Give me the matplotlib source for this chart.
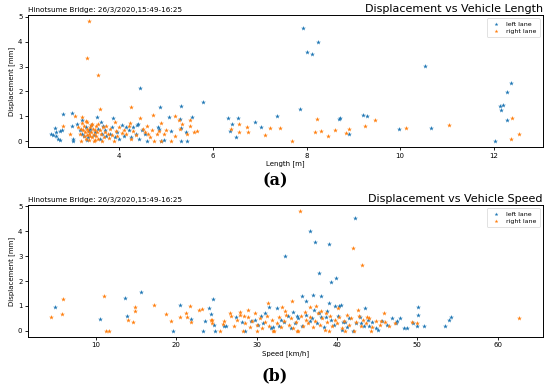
import numpy as np
import matplotlib
matplotlib.use("Agg")
import matplotlib.pyplot as plt

# -------------------------------
# Data
# (a) displacement vs vehicle length, (b) displacement vs vehicle speed
# -------------------------------

len_left = [7.93, 8.02, 8.12, 8.24, 10.53, 12.38, 12.29, 4.45, 5.78, 5.32, 4.87, 7.87,
            12.13, 12.2, 12.15, 12.28, 12.02, 10.67, 9.98, 9.2, 9.3, 8.7, 8.72, 8.9,
            7.37, 7.02, 6.89, 6.32, 6.54, 6.4, 6.37, 6.5, 5.56, 5.06, 2.79, 2.99, 3.52, 3.87,
            2.63, 2.59, 2.64, 2.55, 2.74, 2.70, 2.74, 2.78, 2.65, 2.98, 3.0, 3.02,
            3.21, 3.15, 3.2, 3.25, 3.28, 3.3, 3.35, 3.4, 3.45, 3.48, 3.55, 3.58,
            3.62, 3.65, 3.7, 3.72, 3.8, 3.85, 3.9, 3.95, 4.05, 4.1, 4.2, 4.25,
            4.3, 4.35, 4.38, 4.4, 4.42, 4.48, 4.55, 4.6, 4.82, 4.84, 4.9, 4.95,
            5.1, 5.3, 5.31, 5.32, 5.44, 5.42, 3.1, 3.33, 3.38, 3.6, 4.0, 4.15]
disp_len_left = [4.54, 3.58, 3.51, 4.0, 3.02, 2.35, 1.99, 2.14, 1.56, 1.42, 1.36, 1.29,
                 1.42, 1.44, 1.25, 0.85, 0.0, 0.52, 0.48, 1.05, 0.99, 0.89, 0.92, 0.3,
                 1.01, 0.57, 0.77, 0.94, 0.94, 0.69, 0.42, 0.18, 0.97, 0.96, 1.07, 1.12, 0.96, 0.93,
                 0.54, 0.25, 0.22, 0.27, 0.04, 0.10, 0.40, 0.43, 0.38, 0.60, 0.02, 0.08,
                 0.85, 0.45, 0.3, 0.2, 0.55, 0.05, 0.4, 0.65, 0.25, 0.35, 0.5, 0.1,
                 0.3, 0.6, 0.45, 0.2, 0.3, 0.55, 0.15, 0.35, 0.65, 0.2, 0.45, 0.15,
                 0.55, 0.3, 0.65, 0.7, 0.1, 0.45, 0.3, 0.02, 0.56, 0.5, 0.0, 0.05,
                 0.4, 0.88, 0.53, 0.0, 0.0, 0.36, 0.7, 0.15, 0.5, 0.75, 0.07, 0.58]

len_right = [3.35, 3.30, 3.55, 3.59, 4.25, 4.73, 5.18, 5.27, 6.39, 6.55, 6.56, 6.72,
             6.74, 7.11, 7.23, 7.43, 7.68, 8.22, 8.18, 8.32, 8.45, 8.61, 8.85, 8.9,
             9.25, 9.47, 10.12, 11.04, 12.39, 12.37, 12.55,
             3.12, 3.15, 3.18, 3.2, 3.22, 3.24, 3.25, 3.26, 3.28, 3.3, 3.3, 3.32,
             3.33, 3.35, 3.36, 3.37, 3.38, 3.4, 3.4, 3.42, 3.43, 3.45, 3.45, 3.47,
             3.5, 3.5, 3.52, 3.55, 3.55, 3.58, 3.6, 3.62, 3.65, 3.68, 3.7, 3.72,
             3.75, 3.78, 3.8, 3.85, 3.88, 3.92, 3.95, 4.0, 4.05, 4.1, 4.15, 4.2,
             4.22, 4.25, 4.3, 4.35, 4.45, 4.5, 4.55, 4.6, 4.62, 4.65, 4.7, 4.75,
             4.8, 4.85, 4.9, 4.95, 5.0, 5.1, 5.2, 5.3, 5.35, 5.45, 5.5, 5.6,
             3.05, 2.79, 3.2, 2.95, 3.91, 4.89, 5.51, 5.67, 3.28, 3.42, 3.18, 3.48]
disp_len_right = [4.83, 3.33, 2.65, 1.29, 1.38, 1.05, 1.0, 0.85, 0.48, 0.68, 0.35, 0.58,
                  0.35, 0.24, 0.53, 0.54, 0.0, 0.87, 0.35, 0.41, 0.22, 0.44, 0.32, 0.47,
                  0.59, 0.86, 0.51, 0.65, 0.93, 0.1, 0.28,
                  0.55, 0.3, 0.0, 0.72, 0.45, 0.2, 0.6, 0.35, 0.1, 0.5, 0.25, 0.75,
                  0.4, 0.05, 0.3, 0.55, 0.2, 0.65, 0.38, 0.15, 0.5, 0.28, 0.0, 0.45,
                  0.6, 0.22, 0.35, 0.7, 0.1, 0.45, 0.28, 0.0, 0.55, 0.18, 0.38, 0.62,
                  0.3, 0.12, 0.48, 0.25, 0.0, 0.4, 0.2, 0.55, 0.32, 0.45, 0.28, 0.6,
                  0.72, 0.1, 0.4, 0.25, 0.92, 0.5, 0.35, 0.62, 0.3, 0.15, 0.45, 0.0,
                  0.3, 0.42, 0.0, 0.28, 0.45, 0.0, 0.22, 0.5, 0.7, 0.3, 0.62, 0.38,
                  1.0, 0.59, 0.98, 0.3, 0.75, 0.72, 0.83, 0.4, 0.8, 0.68, 0.5, 0.05]

spd_left = [42.2, 36.6, 37.3, 39.0, 33.6, 37.8, 39.9, 39.3, 35.6, 37.0, 38.0, 36.1,
            39.0, 39.7, 40.2, 40.5, 43.5, 50.1, 50.1, 54.2, 54.0, 53.4, 50.8, 50.0,
            48.4, 48.7, 47.8, 47.5, 45.1,
            5.0, 10.5, 13.6, 13.9, 15.6, 19.6, 20.5, 21.9, 23.4, 23.6, 24.1, 24.3,
            24.6, 24.7, 24.8, 25.9, 26.2, 27.5, 28.6, 29.3, 30.2, 30.8, 31.1, 31.5,
            32.0, 32.5, 33.0, 33.4, 33.9, 34.3, 34.8, 35.2, 35.7, 36.2, 36.6, 37.1,
            37.5, 38.0, 38.4, 38.8, 39.3, 39.6, 40.1, 40.6, 41.0, 41.5, 42.0, 42.4,
            42.9, 43.4, 43.9, 44.4, 44.9, 45.6, 46.2, 46.8, 47.3, 49.5, 32.8, 35.0,
            37.8, 41.2, 43.0, 29.8, 31.8, 34.6, 36.9, 38.6, 40.8, 44.0, 28.2, 30.5]
disp_spd_left = [4.51, 3.99, 3.56, 3.48, 3.0, 2.33, 2.12, 1.96, 1.41, 1.45, 1.4, 1.21,
                 1.11, 1.0, 0.98, 1.02, 0.9, 0.97, 0.65, 0.55, 0.44, 0.2, 0.19, 0.18,
                 0.1, 0.1, 0.5, 0.4, 0.03,
                 0.97, 0.47, 1.33, 0.61, 1.55, 0.0, 1.05, 0.47, 0.0, 0.39, 0.92, 0.67,
                 1.28, 0.23, 0.0, 0.2, 0.2, 0.57, 0.0, 0.4, 0.25, 0.3, 0.72, 0.95,
                 0.15, 0.93, 0.45, 0.35, 0.6, 0.1, 0.3, 0.5, 0.2, 0.65, 0.4, 0.85,
                 0.3, 0.55, 0.15, 0.8, 0.45, 0.25, 0.6, 0.05, 0.35, 0.5, 0.0, 0.3,
                 0.55, 0.2, 0.45, 0.35, 0.1, 0.4, 0.25, 0.5, 0.3, 0.3, 0.2, 0.6,
                 0.7, 0.15, 0.3, 0.45, 0.1, 0.75, 0.5, 0.55, 0.35, 0.2, 0.35, 0.6]

spd_right = [35.4, 42.0, 43.1, 4.5, 5.9, 5.8, 11.0, 11.3, 11.6, 14.0, 14.9, 14.9,
             14.7, 17.3, 18.7, 19.4, 20.5, 21.2, 21.4, 21.7, 21.8, 22.9, 23.2, 24.3,
             24.5, 24.5, 25.5, 25.8, 26.0, 26.7, 26.8, 45.8, 62.7, 50.0, 49.3,
             27.2, 27.6, 28.0, 28.3, 28.6, 28.9, 29.2, 29.5, 29.8, 30.1, 30.4, 30.7,
             31.0, 31.3, 31.6, 31.9, 32.2, 32.5, 32.8, 33.1, 33.4, 33.7, 34.0, 34.3,
             34.6, 34.9, 35.2, 35.5, 35.8, 36.1, 36.4, 36.7, 37.0, 37.3, 37.6, 37.9,
             38.2, 38.5, 38.8, 39.1, 39.4, 39.7, 40.0, 40.3, 40.6, 40.9, 41.2, 41.5,
             41.8, 42.1, 42.4, 42.7, 43.0, 43.3, 43.6, 44.0, 44.4, 44.8, 45.3, 46.0,
             46.5, 47.2, 33.2, 36.7, 31.4, 29.0, 38.0, 40.1, 27.9, 34.4, 37.4, 42.6,
             30.0, 32.0, 35.0, 39.0, 41.0, 44.2, 36.0, 28.4, 33.6, 38.6, 43.8, 45.5]
disp_spd_right = [4.81, 3.31, 2.63, 0.56, 1.29, 0.68, 1.39, 0.0, 0.0, 0.45, 0.95, 0.8,
                  0.35, 1.05, 0.69, 0.4, 0.57, 0.7, 0.57, 0.99, 0.37, 0.84, 0.88, 0.43,
                  0.3, 0.43, 0.0, 0.28, 0.4, 0.72, 0.58, 0.71, 0.52, 0.3, 0.37,
                  0.2, 0.45, 0.65, 0.0, 0.3, 0.55, 0.15, 0.4, 0.7, 0.25, 0.5, 0.1,
                  0.35, 0.6, 0.2, 0.45, 0.0, 0.3, 0.55, 0.15, 0.4, 0.65, 0.25, 0.5,
                  0.1, 0.35, 0.0, 0.6, 0.2, 0.45, 0.3, 0.55, 0.15, 0.4, 0.7, 0.25,
                  0.5, 0.05, 0.35, 0.6, 0.2, 0.45, 0.3, 0.55, 0.1, 0.4, 0.65, 0.25,
                  0.5, 0.0, 0.35, 0.6, 0.2, 0.45, 0.3, 0.5, 0.15, 0.4, 0.25, 0.35,
                  0.2, 0.3, 0.95, 0.95, 1.1, 0.85, 0.8, 0.9, 0.75, 1.2, 1.0, 0.85,
                  0.0, 0.0, 0.0, 0.0, 0.0, 0.0, 0.75, 0.6, 0.8, 0.7, 0.55, 0.4]

left_color = "#1f77b4"
right_color = "#ff7f0e"
subtitle = "Hinotsume Bridge: 26/3/2020,15:49-16:25"

fig = plt.figure(figsize=(5.5, 3.89), dpi=100)
ax_a = fig.add_axes([0.051, 0.622, 0.936, 0.339])
ax_b = fig.add_axes([0.051, 0.134, 0.936, 0.339])


def draw_panel(ax, xl, yl, xr, yr, xlabel, title):
    ax.scatter(xl, yl, marker="*", s=13, color=left_color, linewidths=0, label="left lane")
    ax.scatter(xr, yr, marker="*", s=13, color=right_color, linewidths=0, label="right lane")
    ax.set_title(subtitle, loc="left", fontsize=5.2, pad=2)
    ax.set_title(title, loc="right", fontsize=8, pad=2)
    ax.set_xlabel(xlabel, fontsize=5, labelpad=1)
    ax.set_ylabel("Displacement [mm]", fontsize=5, labelpad=2)
    ax.tick_params(labelsize=5, length=2.5, width=0.6, pad=1.5)
    for sp in ax.spines.values():
        sp.set_linewidth(0.7)
    ax.set_yticks([0, 1, 2, 3, 4, 5])
    leg = ax.legend(loc="upper right", fontsize=4.5, markerscale=0.8,
                    handletextpad=0.6, borderpad=0.5, labelspacing=0.3)
    leg.get_frame().set_linewidth(0.5)


draw_panel(ax_a, len_left, disp_len_left, len_right, disp_len_right,
           "Length [m]", "Displacement vs Vehicle Length")
draw_panel(ax_b, spd_left, disp_spd_left, spd_right, disp_spd_right,
           "Speed [km/h]", "Displacement vs Vehicle Speed")
ax_a.set_xticks([4, 6, 8, 10, 12])
ax_b.set_xticks([10, 20, 30, 40, 50, 60])

fig.text(0.5, 0.535, "(a)", ha="center", va="center", fontsize=11.5,
         family="DejaVu Serif", fontweight="bold")
fig.text(0.5, 0.035, "(b)", ha="center", va="center", fontsize=11.5,
         family="DejaVu Serif", fontweight="bold")

fig.savefig("out.png", dpi=100)
